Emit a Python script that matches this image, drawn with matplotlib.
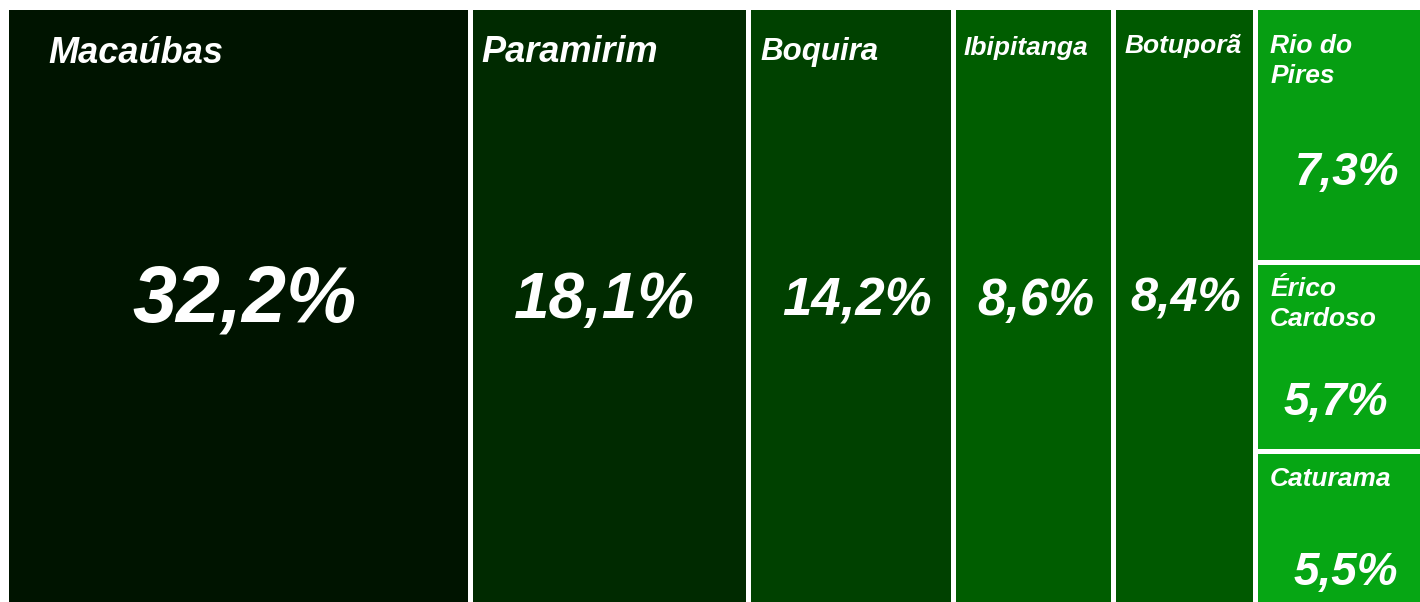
import matplotlib
matplotlib.use("Agg")
import matplotlib.pyplot as plt
from matplotlib.patches import Rectangle

# ---------------- data ----------------
names = ["Macaúbas", "Paramirim", "Boquira", "Ibipitanga", "Botuporã",
         "Rio do\nPires", "Érico\nCardoso", "Caturama"]
shares = [32.2, 18.1, 14.2, 8.6, 8.4, 7.3, 5.7, 5.5]
# tile areas as drawn in the reference (% of chart area)
tile_areas = [32.8, 19.6, 14.5, 11.3, 10.0, 5.05, 3.75, 3.05]
# treemap columns (indices of tiles stacked in each column)
columns = [[0], [1], [2], [3], [4], [5, 6, 7]]

# ---------------- style ----------------
colors = ["#001400", "#002a00", "#004100", "#005d00", "#005900",
          "#069e12", "#07a614", "#06a614"]
name_sizes = [26, 26, 22.5, 19, 19, 19, 19, 19]
pct_sizes = [57, 46, 38, 37, 35, 33, 33, 33]
# (dx, first-baseline) of name from visible tile top-left, pixels
name_pos = [(40, 54), (9, 53), (10, 51), (8, 46), (9, 44), (13, 44), (13, 32), (13, 32)]
line_step = 30
# (dx from tile centre, baseline from tile top) of percentage, pixels
pct_pos = [(6.5, 313), (-4.5, 309), (7, 306), (2.5, 306), (1.5, 303),
           (8, 176), (-2.5, 151), (7.5, 131)]

FONT = "Liberation Sans"
W, H = 1420, 602
gap = 5.0
half = gap / 2
left_px, right_px, top_px, bottom_px = 8 - half, W + half, 9 - half, H + half + 1

fig = plt.figure(figsize=(W / 100, H / 100), dpi=100)
fig.patch.set_facecolor("white")
ax = fig.add_axes([left_px / W, (H - bottom_px) / H,
                   (right_px - left_px) / W, (bottom_px - top_px) / H])
ax.set_xlim(0, 100)
ax.set_ylim(100, 0)
ax.axis("off")

px2pt = 72 / 100
total = sum(tile_areas)
x = 0.0
for col in columns:
    col_area = sum(tile_areas[i] for i in col)
    w = col_area / total * 100
    y = 0.0
    for i in col:
        h = tile_areas[i] / col_area * 100
        ax.add_patch(Rectangle((x, y), w, h, facecolor=colors[i],
                               edgecolor="white", linewidth=gap * px2pt,
                               joinstyle="miter"))
        # name lines
        dx, by = name_pos[i]
        for k, line in enumerate(names[i].split("\n")):
            ax.annotate(line, xy=(x, y), xycoords="data",
                        xytext=((dx + half) * px2pt, -(by + half + k * line_step) * px2pt),
                        textcoords="offset points", ha="left", va="baseline",
                        color="white", fontsize=name_sizes[i], fontweight="bold",
                        fontstyle="italic", family=FONT)
        # percentage
        pdx, pby = pct_pos[i]
        label = f"{shares[i]:.1f}%".replace(".", ",")
        ax.annotate(label, xy=(x + w / 2, y), xycoords="data",
                    xytext=(pdx * px2pt, -(pby + half) * px2pt),
                    textcoords="offset points", ha="center", va="baseline",
                    color="white", fontsize=pct_sizes[i], fontweight="bold",
                    fontstyle="italic", family=FONT)
        y += h
    x += w

fig.savefig("out.png", dpi=100, facecolor="white")
